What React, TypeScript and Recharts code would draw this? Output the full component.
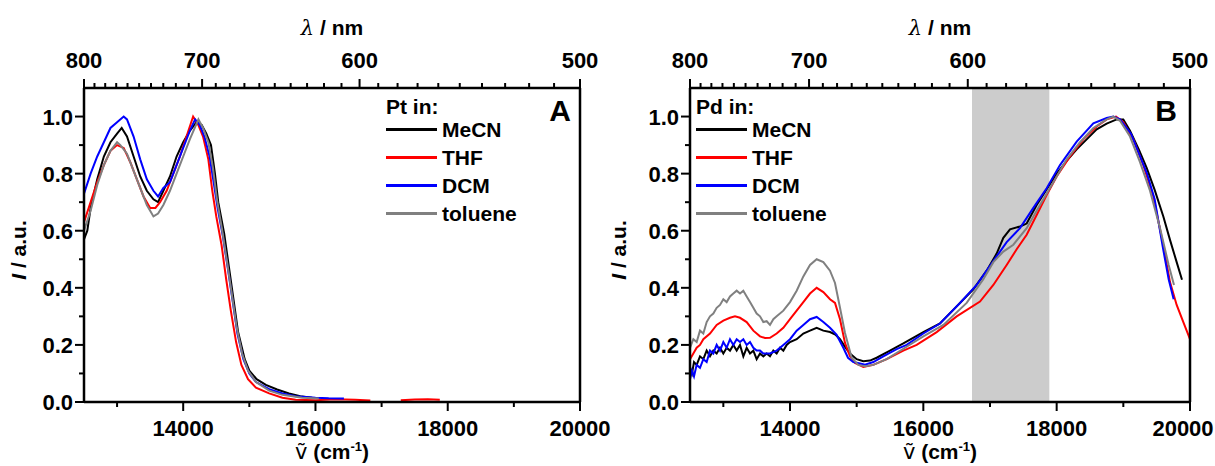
import React from "react";
import { LineChart, Line, XAxis, YAxis, ReferenceArea, ReferenceLine } from "recharts";

type Pt = [number, number | null];

// Panel A: Pt complex, wavenumber (cm-1) vs normalised intensity
const ptMeCN: Pt[] = [
  [12500, 0.57], [12550, 0.6], [12600, 0.68], [12700, 0.78], [12800, 0.86], [12900, 0.91],
  [13000, 0.94], [13070, 0.96], [13150, 0.93], [13250, 0.86], [13350, 0.79], [13450, 0.74],
  [13550, 0.71], [13620, 0.7], [13700, 0.74], [13800, 0.79], [13900, 0.86], [14000, 0.91],
  [14100, 0.95], [14200, 0.98], [14280, 0.97], [14350, 0.94], [14420, 0.9], [14480, 0.8],
  [14530, 0.7], [14620, 0.59], [14690, 0.475], [14760, 0.36], [14830, 0.245], [14930, 0.15],
  [15000, 0.11], [15110, 0.08], [15250, 0.06], [15420, 0.044], [15600, 0.03], [15770, 0.02],
  [15950, 0.015],
];
const ptTHF: Pt[] = [
  [12500, 0.63], [12600, 0.7], [12700, 0.77], [12800, 0.83], [12900, 0.88], [13000, 0.9],
  [13100, 0.89], [13200, 0.84], [13300, 0.78], [13400, 0.72], [13500, 0.68], [13580, 0.68],
  [13650, 0.7], [13750, 0.74], [13850, 0.8], [13950, 0.86], [14050, 0.93], [14150, 1.0],
  [14230, 0.97], [14300, 0.93], [14380, 0.85], [14440, 0.74], [14500, 0.65], [14580, 0.55],
  [14650, 0.43], [14720, 0.32], [14800, 0.21], [14880, 0.13], [14980, 0.08], [15100, 0.05],
  [15300, 0.03], [15500, 0.015], [15700, 0.008], [16000, 0.006], [16300, 0.01], [16600, 0.008],
  [16830, 0.005], [17000, null], [17290, 0.006], [17500, 0.009], [17700, 0.01], [17880, 0.008],
];
const ptDCM: Pt[] = [
  [12500, 0.73], [12600, 0.8], [12700, 0.86], [12800, 0.91], [12900, 0.96], [13000, 0.98],
  [13100, 1.0], [13150, 0.99], [13250, 0.93], [13350, 0.85], [13450, 0.78], [13550, 0.74],
  [13620, 0.72], [13700, 0.75], [13800, 0.77], [13900, 0.83], [14000, 0.89], [14100, 0.95],
  [14180, 0.99], [14250, 0.97], [14320, 0.93], [14400, 0.86], [14460, 0.77], [14520, 0.68],
  [14600, 0.58], [14680, 0.46], [14750, 0.35], [14820, 0.24], [14910, 0.15], [15000, 0.1],
  [15100, 0.07], [15300, 0.045], [15500, 0.03], [15700, 0.02], [16000, 0.015], [16200, 0.013],
  [16430, 0.012],
];
const ptToluene: Pt[] = [
  [12500, 0.6], [12600, 0.67], [12700, 0.76], [12800, 0.83], [12900, 0.88], [13000, 0.91],
  [13050, 0.9], [13150, 0.87], [13250, 0.81], [13350, 0.75], [13450, 0.69], [13550, 0.65],
  [13620, 0.66], [13700, 0.69], [13800, 0.74], [13900, 0.8], [14000, 0.86], [14100, 0.92],
  [14230, 0.99], [14300, 0.96], [14380, 0.91], [14450, 0.82], [14510, 0.71], [14590, 0.6],
  [14670, 0.48], [14740, 0.37], [14810, 0.26], [14890, 0.17], [14980, 0.11], [15100, 0.07],
  [15300, 0.04], [15500, 0.025], [15800, 0.015], [16050, 0.012],
];

// Panel B: Pd complex
const pdMeCN: Pt[] = [
  [12500, 0.12], [12530, 0.1], [12560, 0.14], [12600, 0.13], [12650, 0.16], [12700, 0.15],
  [12750, 0.18], [12800, 0.16], [12850, 0.18], [12900, 0.17], [12950, 0.19], [13000, 0.17],
  [13050, 0.19], [13100, 0.18], [13150, 0.2], [13200, 0.18], [13250, 0.2], [13300, 0.16],
  [13350, 0.19], [13400, 0.17], [13450, 0.18], [13500, 0.15], [13550, 0.17], [13600, 0.16],
  [13650, 0.17], [13700, 0.16], [13750, 0.18], [13800, 0.17], [13850, 0.19], [13900, 0.18],
  [13950, 0.2], [14000, 0.21], [14100, 0.22], [14200, 0.24], [14300, 0.25], [14400, 0.26],
  [14500, 0.25], [14600, 0.245], [14680, 0.236], [14750, 0.22], [14820, 0.195], [14900, 0.17],
  [15000, 0.15], [15100, 0.143], [15200, 0.145], [15300, 0.155], [15500, 0.18], [15700, 0.205],
  [16000, 0.245], [16250, 0.275], [16500, 0.335], [16750, 0.395], [16950, 0.46], [17100, 0.52],
  [17200, 0.575], [17300, 0.605], [17450, 0.615], [17550, 0.625], [17700, 0.69], [17850, 0.745],
  [18000, 0.8], [18150, 0.845], [18300, 0.885], [18450, 0.92], [18600, 0.955], [18750, 0.975],
  [18900, 0.99], [19000, 0.99], [19100, 0.95], [19235, 0.883], [19350, 0.82], [19470, 0.743],
  [19600, 0.65], [19700, 0.568], [19800, 0.49], [19880, 0.428],
];
const pdTHF: Pt[] = [
  [12500, 0.15], [12550, 0.17], [12600, 0.19], [12650, 0.2], [12700, 0.22], [12800, 0.24],
  [12900, 0.27], [13000, 0.285], [13100, 0.295], [13175, 0.3], [13250, 0.295], [13350, 0.28],
  [13450, 0.25], [13550, 0.23], [13625, 0.224], [13700, 0.225], [13800, 0.24], [13900, 0.26],
  [14000, 0.29], [14100, 0.32], [14200, 0.35], [14300, 0.38], [14400, 0.4], [14500, 0.385],
  [14600, 0.36], [14675, 0.347], [14750, 0.29], [14825, 0.207], [14900, 0.16], [14975, 0.137],
  [15100, 0.123], [15250, 0.13], [15450, 0.15], [15700, 0.18], [15900, 0.2], [16200, 0.245],
  [16500, 0.3], [16850, 0.352], [17050, 0.41], [17250, 0.48], [17400, 0.535], [17550, 0.586],
  [17700, 0.655], [17850, 0.725], [18000, 0.79], [18200, 0.86], [18400, 0.92], [18600, 0.965],
  [18750, 0.99], [18890, 1.0], [19000, 0.98], [19150, 0.92], [19300, 0.83], [19450, 0.72],
  [19590, 0.56], [19700, 0.42], [19800, 0.34], [19900, 0.28], [20000, 0.22],
];
const pdDCM: Pt[] = [
  [12500, 0.08], [12530, 0.11], [12560, 0.09], [12600, 0.13], [12650, 0.12], [12700, 0.15],
  [12750, 0.14], [12800, 0.18], [12850, 0.17], [12900, 0.2], [12950, 0.18], [13000, 0.21],
  [13050, 0.19], [13100, 0.22], [13150, 0.2], [13200, 0.22], [13250, 0.21], [13300, 0.22],
  [13350, 0.2], [13400, 0.21], [13450, 0.19], [13500, 0.18], [13550, 0.18], [13600, 0.17],
  [13650, 0.17], [13700, 0.17], [13800, 0.18], [13900, 0.2], [14000, 0.22], [14100, 0.25],
  [14200, 0.27], [14300, 0.29], [14400, 0.298], [14500, 0.28], [14600, 0.26], [14700, 0.235],
  [14800, 0.19], [14870, 0.155], [14950, 0.14], [15050, 0.135], [15125, 0.131], [15250, 0.14],
  [15400, 0.16], [15600, 0.185], [15750, 0.2], [16000, 0.24], [16250, 0.275], [16550, 0.347],
  [16800, 0.41], [16950, 0.46], [17100, 0.51], [17250, 0.56], [17450, 0.609], [17650, 0.68],
  [17850, 0.749], [18050, 0.83], [18300, 0.912], [18550, 0.976], [18750, 0.995], [18850, 1.0],
  [18950, 0.99], [19115, 0.94], [19355, 0.8], [19470, 0.71], [19590, 0.545], [19680, 0.43],
  [19755, 0.36],
];
const pdToluene: Pt[] = [
  [12500, 0.19], [12550, 0.22], [12600, 0.21], [12650, 0.25], [12700, 0.24], [12750, 0.28],
  [12800, 0.3], [12850, 0.31], [12900, 0.33], [12950, 0.34], [13000, 0.36], [13050, 0.35],
  [13100, 0.37], [13150, 0.38], [13200, 0.39], [13250, 0.38], [13300, 0.39], [13350, 0.37],
  [13400, 0.35], [13450, 0.33], [13500, 0.31], [13550, 0.3], [13600, 0.28], [13650, 0.283],
  [13700, 0.27], [13750, 0.29], [13800, 0.3], [13900, 0.32], [14000, 0.35], [14100, 0.39],
  [14200, 0.44], [14300, 0.48], [14400, 0.5], [14500, 0.49], [14600, 0.46], [14675, 0.417],
  [14750, 0.33], [14825, 0.242], [14925, 0.155], [15025, 0.13], [15125, 0.125], [15250, 0.13],
  [15450, 0.15], [15725, 0.19], [16000, 0.23], [16300, 0.27], [16650, 0.347], [16900, 0.43],
  [17050, 0.49], [17200, 0.527], [17350, 0.551], [17550, 0.609], [17750, 0.69], [17950, 0.77],
  [18150, 0.85], [18350, 0.91], [18550, 0.96], [18750, 0.99], [18850, 1.0], [18950, 0.985],
  [19100, 0.93], [19250, 0.84], [19400, 0.74], [19550, 0.61], [19680, 0.48], [19760, 0.41],
];

const solvents = ["MeCN", "THF", "DCM", "toluene"];
const colors = ["#000000", "#ff0000", "#0000ff", "#808080"];

const nmTicks = [
  800, 790, 780, 770, 760, 750, 740, 730, 720, 710, 700, 690, 680, 670, 660, 650,
  640, 630, 620, 610, 600, 590, 580, 570, 560, 550, 540, 530, 520, 510, 500,
];
const wnTicks = [13000, 14000, 15000, 16000, 17000, 18000, 19000, 20000];
const yTicks = [0, 0.1, 0.2, 0.3, 0.4, 0.5, 0.6, 0.7, 0.8, 0.9, 1.0];
const shadedBand = [16730, 17890];

const FONT = '"Liberation Sans", Arial, Helvetica, sans-serif';
const TICK_SIZE = 22;
const toXY = (pts: Pt[]) => pts.map(([x, y]) => ({ x, y }));

function YTick(props: any) {
  const { x, y, payload } = props;
  const major = Math.round(payload.value * 10) % 2 === 0;
  return (
    <g>
      <line x1={x} x2={x - (major ? 9 : 5)} y1={y} y2={y} stroke="#000" strokeWidth={2} />
      {major && (
        <text x={x - 11} y={y + 8} textAnchor="end" fontFamily={FONT} fontWeight="bold" fontSize={TICK_SIZE} fill="#000">
          {payload.value.toFixed(1)}
        </text>
      )}
    </g>
  );
}

function BottomTick(props: any) {
  const { x, y, payload, edge } = props;
  const major = payload.value % 2000 === 0;
  // keep the last label inside the page edge
  const dx = edge ? Math.min(0, edge - 1 - x - 31) : 0;
  return (
    <g>
      <line x1={x} x2={x} y1={y} y2={y + (major ? 9 : 5)} stroke="#000" strokeWidth={2} />
      {major && (
        <text x={x + dx} y={y + 34} textAnchor="middle" fontFamily={FONT} fontWeight="bold" fontSize={TICK_SIZE} fill="#000">
          {payload.value}
        </text>
      )}
    </g>
  );
}

function TopTick(props: any) {
  const { x, y, payload } = props;
  const nm = Math.round(1e7 / payload.value);
  const major = nm % 100 === 0;
  return (
    <g>
      <line x1={x} x2={x} y1={y} y2={y - (major ? 9 : 5)} stroke="#000" strokeWidth={2} />
      {major && (
        <text x={x} y={y - 20} textAnchor="middle" fontFamily={FONT} fontWeight="bold" fontSize={TICK_SIZE} fill="#000">
          {nm}
        </text>
      )}
    </g>
  );
}

const textBase: React.CSSProperties = {
  position: "absolute",
  fontFamily: FONT,
  fontWeight: "bold",
  color: "#000",
  whiteSpace: "nowrap",
};

function Txt({ x, cy, size = 21, center = false, children }: any) {
  return (
    <div
      style={{
        ...textBase,
        left: x,
        top: cy - size / 2,
        fontSize: size,
        lineHeight: `${size}px`,
        transform: center ? "translateX(-50%)" : undefined,
      }}
    >
      {children}
    </div>
  );
}

interface PanelProps {
  left: number;
  width: number;
  axisWidth: number;
  rightMargin: number;
  series: Pt[][];
  title: string;
  letter: string;
  legendX: number;
  letterX: number;
  band?: number[];
  clampLast?: boolean;
}

function Panel({ left, width, axisWidth, rightMargin, series, title, letter, legendX, letterX, band, clampLast }: PanelProps) {
  const plotL = left + axisWidth;
  const plotR = left + width - rightMargin;
  const mid = (plotL + plotR) / 2;
  const legendRows = [129.5, 157.5, 185, 213];
  return (
    <>
      <div style={{ position: "absolute", left, top: 0 }}>
        <LineChart width={width} height={466} margin={{ top: 28, right: rightMargin, bottom: 0, left: 0 }}>
          <XAxis
            xAxisId="bottom"
            dataKey="x"
            type="number"
            domain={[12500, 20000]}
            allowDataOverflow
            ticks={wnTicks}
            interval={0}
            height={64}
            tickSize={0}
            tickMargin={0}
            tick={<BottomTick edge={clampLast ? width : 0} />}
            axisLine={{ stroke: "#000", strokeWidth: 2.5 }}
          />
          <XAxis
            xAxisId="top"
            orientation="top"
            dataKey="x"
            type="number"
            domain={[12500, 20000]}
            allowDataOverflow
            ticks={nmTicks.map((nm) => 1e7 / nm)}
            interval={0}
            height={60}
            tickSize={0}
            tickMargin={0}
            tick={<TopTick />}
            axisLine={{ stroke: "#000", strokeWidth: 2.5 }}
          />
          <YAxis
            yAxisId="left"
            type="number"
            domain={[0, 1.1]}
            allowDataOverflow
            ticks={yTicks}
            interval={0}
            width={axisWidth}
            tickSize={0}
            tickMargin={0}
            tick={<YTick />}
            axisLine={{ stroke: "#000", strokeWidth: 2.5 }}
          />
          {band && (
            <ReferenceArea
              xAxisId="bottom"
              yAxisId="left"
              x1={band[0]}
              x2={band[1]}
              fill="#cccccc"
              fillOpacity={1}
              stroke="none"
            />
          )}
          {series.map((s, i) => (
            <Line
              key={solvents[i]}
              xAxisId="bottom"
              yAxisId="left"
              data={toXY(s)}
              dataKey="y"
              type="linear"
              stroke={colors[i]}
              strokeWidth={2}
              dot={false}
              activeDot={false}
              isAnimationActive={false}
            />
          ))}
          {/* hidden carrier so the top axis gets a domain */}
          <Line
            xAxisId="top"
            yAxisId="left"
            data={toXY(series[0])}
            dataKey="y"
            stroke="none"
            dot={false}
            activeDot={false}
            isAnimationActive={false}
          />
          <ReferenceLine xAxisId="bottom" yAxisId="left" x={20000} stroke="#000" strokeWidth={2.5} />
        </LineChart>
      </div>

      <Txt x={mid} cy={27} center>
        <span style={{ fontStyle: "italic", fontWeight: "normal", fontFamily: "DejaVu Serif, serif" }}>λ</span> / nm
      </Txt>
      <Txt x={mid} cy={451} center>
        <span style={{ fontWeight: "normal", fontFamily: "DejaVu Sans, sans-serif" }}>ṽ</span> (cm
        <span style={{ fontSize: 13, position: "relative", top: -8 }}>-1</span>)
      </Txt>
      <div
        style={{
          ...textBase,
          left: left + 18,
          top: 250,
          fontSize: 21,
          lineHeight: "21px",
          transform: "translate(-50%, -50%) rotate(-90deg)",
        }}
      >
        <span style={{ fontStyle: "italic" }}>I</span> / a.u.
      </div>

      <Txt x={legendX} cy={106}>{title}</Txt>
      {solvents.map((name, i) => (
        <React.Fragment key={name}>
          <div
            style={{
              position: "absolute",
              left: legendX,
              top: legendRows[i] - 1.5,
              width: 51,
              height: 3,
              background: colors[i],
            }}
          />
          <Txt x={legendX + 56} cy={legendRows[i]}>{name}</Txt>
        </React.Fragment>
      ))}
      <Txt x={letterX} cy={111} size={30} center>{letter}</Txt>
    </>
  );
}

export default function App() {
  return (
    <div style={{ position: "absolute", left: 0, top: 0, width: 1215, height: 466, background: "#fff", overflow: "hidden" }}>
      <Panel
        left={0}
        width={620}
        axisWidth={84}
        rightMargin={40}
        series={[ptMeCN, ptTHF, ptDCM, ptToluene]}
        title="Pt in:"
        letter="A"
        legendX={386}
        letterX={560}
      />
      <Panel
        left={600}
        width={615}
        axisWidth={90}
        rightMargin={25}
        series={[pdMeCN, pdTHF, pdDCM, pdToluene]}
        title="Pd in:"
        letter="B"
        legendX={696}
        letterX={1166}
        band={shadedBand}
        clampLast
      />
    </div>
  );
}
